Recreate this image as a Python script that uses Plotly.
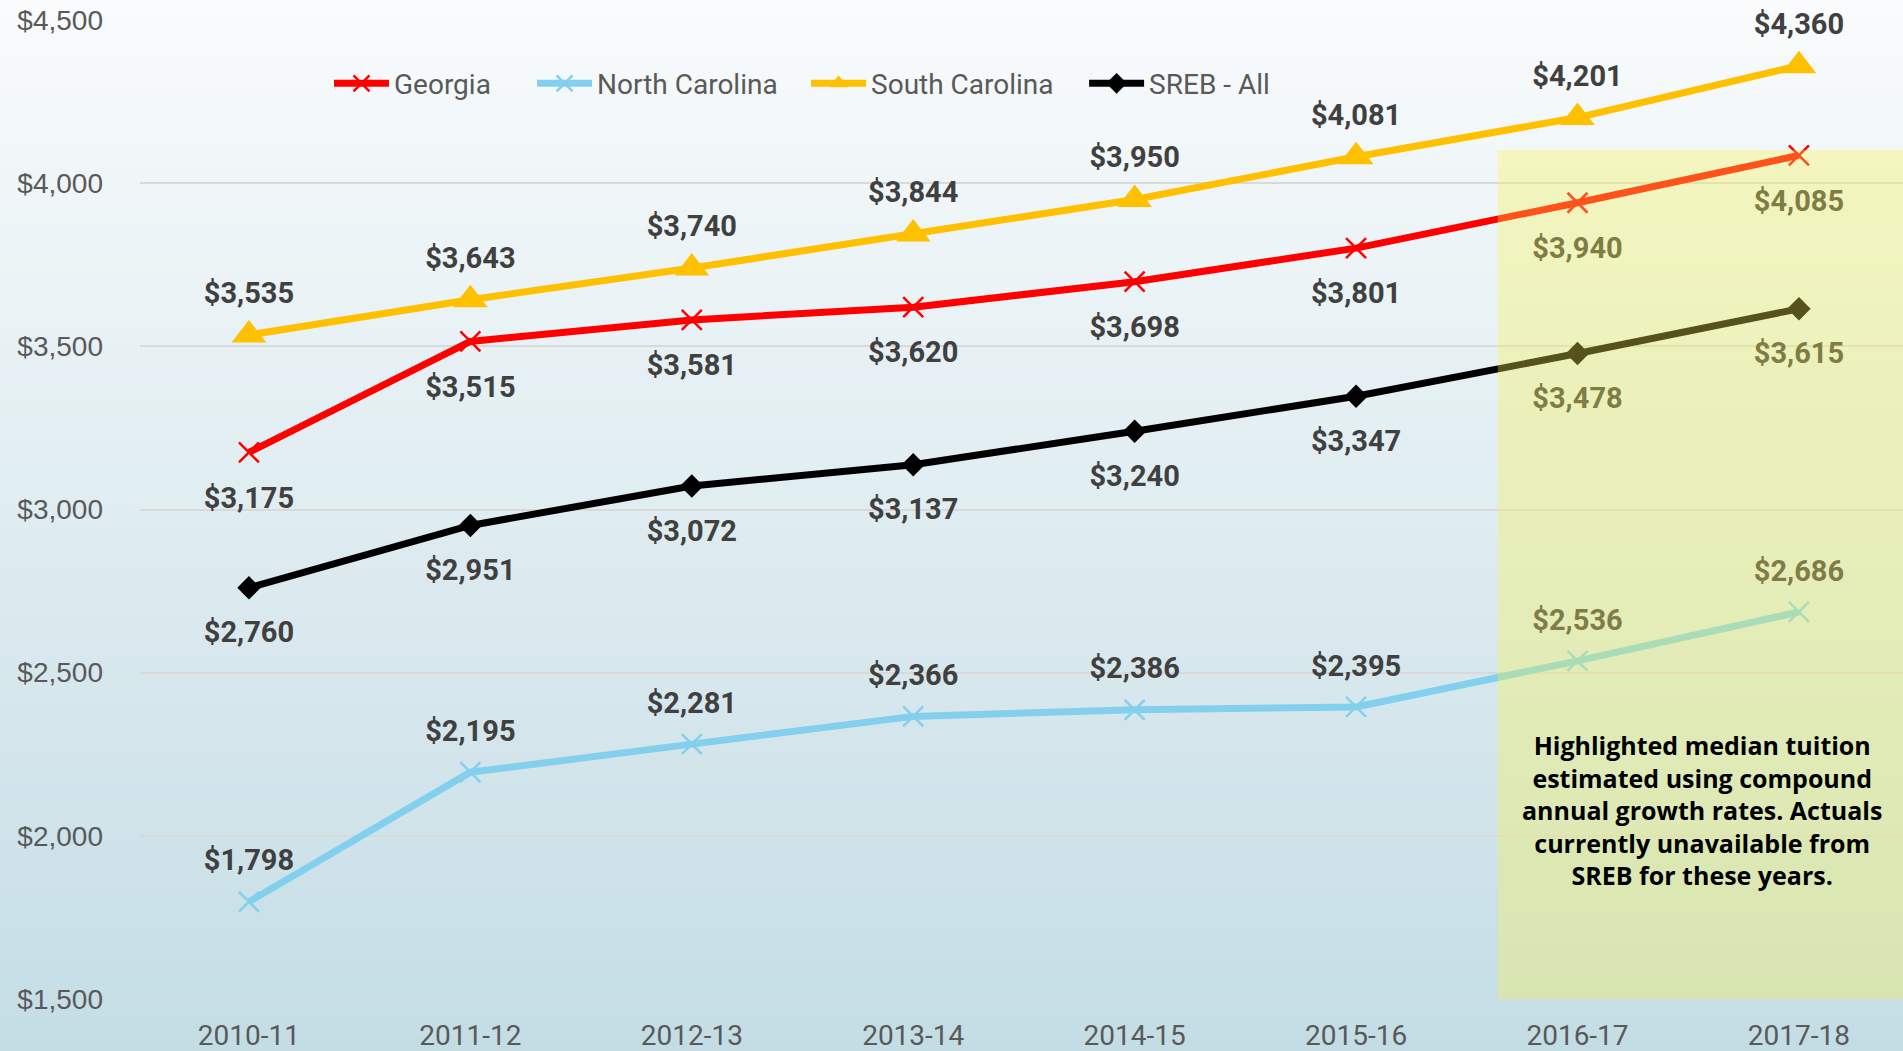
import plotly.graph_objects as go

categories = ["2010-11", "2011-12", "2012-13", "2013-14", "2014-15", "2015-16", "2016-17", "2017-18"]
georgia = [3175, 3515, 3581, 3620, 3698, 3801, 3940, 4085]
north_carolina = [1798, 2195, 2281, 2366, 2386, 2395, 2536, 2686]
south_carolina = [3535, 3643, 3740, 3844, 3950, 4081, 4201, 4360]
sreb_all = [2760, 2951, 3072, 3137, 3240, 3347, 3478, 3615]
y_ticks = [1500, 2000, 2500, 3000, 3500, 4000, 4500]
note_text = ("Highlighted median tuition<br>estimated using compound<br>"
             "annual growth rates. Actuals<br>currently unavailable from<br>"
             "SREB for these years.")

W, H = 1903, 1051
ML, MR, MT, MB = 140, 0, 20, 52

series = [
    ("Georgia", georgia, "#FF0000", "x-thin-open", 20, "bottom center", 52, "legend", 0.1072),
    ("North Carolina", north_carolina, "#83D0EE", "x-thin-open", 20, "top center", 37, "legend2", 0.2224),
    ("South Carolina", south_carolina, "#FFC000", "triangle-up", 30, "top center", 38, "legend3", 0.3778),
    ("SREB - All", sreb_all, "#000000", "diamond", 18, "bottom center", 51, "legend4", 0.5355),
]

fig = go.Figure()
xi = list(range(len(categories)))

# value labels (drawn first, under the lines)
for name, vals, color, sym, msize, tpos, tsize, lg, lx in series:
    fig.add_trace(go.Scatter(
        x=xi, y=vals, mode="markers+text",
        text=[f"${v:,}" for v in vals], textposition=tpos,
        textfont=dict(family="Roboto", size=29, color="#404040", weight="bold"),
        marker=dict(size=tsize, color="rgba(0,0,0,0)"),
        cliponaxis=False, showlegend=False, hoverinfo="skip"))

for name, vals, color, sym, msize, tpos, tsize, lg, lx in series:
    if "thin" in sym:
        marker = dict(symbol=sym, size=msize, color=color, line=dict(color=color, width=2.5))
    else:
        marker = dict(symbol=sym, size=msize, color=color, line=dict(width=0))
    fig.add_trace(go.Scatter(
        x=xi, y=vals, mode="lines+markers", name=name, legend=lg,
        line=dict(color=color, width=7), marker=marker, cliponaxis=False))

# background gradient
top = (249, 251, 252)
bot = (196, 221, 229)
n = 70
pw = W - ML - MR
ph = H - MT - MB
shapes = []
for i in range(n):
    t = (i + 0.5) / n
    c = tuple(round(top[k] + (bot[k] - top[k]) * t) for k in range(3))
    ytop_px = i * H / n
    ybot_px = (i + 1) * H / n + 1
    shapes.append(dict(
        type="rect", xref="paper", yref="paper", layer="below",
        x0=-ML / pw, x1=1 + MR / pw,
        y0=(H - MB - ybot_px) / ph, y1=(H - MB - ytop_px) / ph,
        fillcolor=f"rgb{c}", line=dict(width=0)))

# highlight box (estimated years)
shapes.append(dict(
    type="rect", xref="x", yref="y", layer="above",
    x0=5.64, x1=7.5, y0=1490, y1=4102,
    fillcolor="rgba(248,244,80,0.34)", line=dict(width=0)))

legend_font = dict(family="Roboto", size=28, color="#595959")
legends = {}
for name, vals, color, sym, msize, tpos, tsize, lg, lx in series:
    legends[lg] = dict(orientation="h", x=lx, y=0.935, xanchor="left", yanchor="middle",
                       font=legend_font, bgcolor="rgba(0,0,0,0)", itemwidth=55)

fig.update_layout(
    width=W, height=H,
    margin=dict(l=ML, r=MR, t=MT, b=MB),
    paper_bgcolor="#E0ECF0", plot_bgcolor="rgba(0,0,0,0)",
    shapes=shapes,
    showlegend=True,
    hovermode=False,
    annotations=[dict(
        xref="x", yref="y", x=6.56, y=2080, text=note_text, showarrow=False,
        font=dict(family="Open Sans", size=25, color="#000000", weight="bold"),
        align="center")],
    **legends,
)

fig.update_xaxes(
    range=[-0.492, 7.47], tickmode="array", tickvals=xi, ticktext=categories,
    showgrid=False, zeroline=False, showline=False, ticks="",
    tickfont=dict(family="Roboto", size=28, color="#595959"), ticklabelstandoff=17)
fig.update_yaxes(
    range=[1500, 4500], tickmode="array", tickvals=y_ticks,
    ticktext=[f"${v:,}" for v in y_ticks],
    showgrid=True, gridcolor="#D9D9D9", gridwidth=1.5, zeroline=False, showline=False,
    ticks="", tickfont=dict(family="Liberation Sans", size=28, color="#595959"),
    ticklabelstandoff=36)

fig.write_html("out.html", config={"displayModeBar": False},
               post_script="document.body.style.margin='0px';")
